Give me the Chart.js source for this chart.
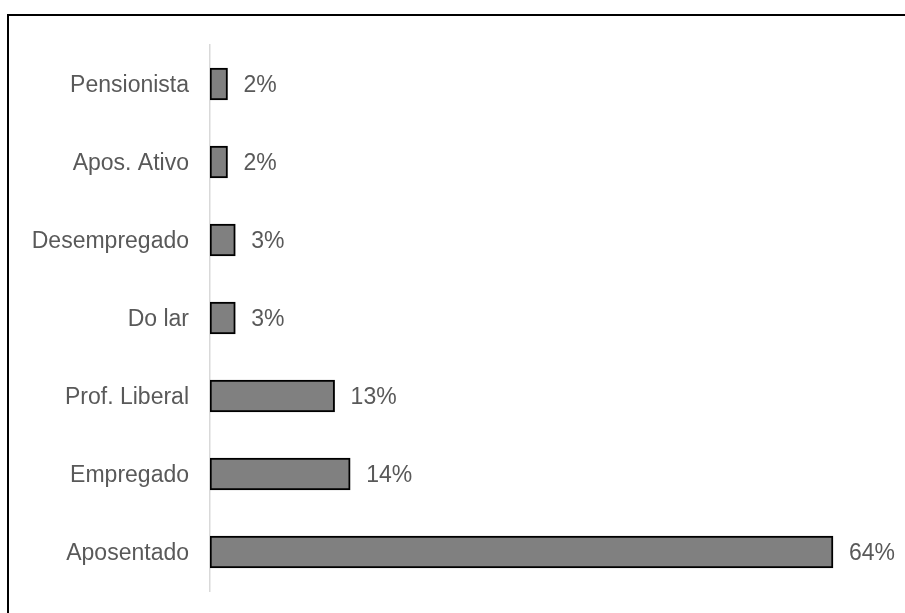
<!DOCTYPE html>
<html>
<head>
<meta charset="utf-8">
<script src="https://cdn.jsdelivr.net/npm/chart.js@4/dist/chart.umd.min.js"></script>
<style>
  html, body { margin: 0; padding: 0; background: #fff; overflow: hidden; width: 905px; height: 613px; }
  #frame { position: absolute; left: 7px; top: 14px; width: 1000px; height: 1000px; border: 2px solid #000; box-sizing: border-box; }
  #c { position: absolute; left: 0; top: 0; }
</style>
</head>
<body>
<div id="frame"></div>
<canvas id="c" width="905" height="613"></canvas>
<script>
const categories = ["Pensionista", "Apos. Ativo", "Desempregado", "Do lar", "Prof. Liberal", "Empregado", "Aposentado"];
const shares = [1.8, 1.8, 2.6, 2.6, 12.8, 14.4, 64];

const FONT = '"Liberation Sans", Arial, sans-serif';
const TEXT = '#595959';

const valueLabels = {
  id: 'valueLabels',
  afterDatasetsDraw(chart) {
    const ctx = chart.ctx;
    const meta = chart.getDatasetMeta(0);
    ctx.save();
    ctx.font = '23px ' + FONT;
    ctx.fillStyle = TEXT;
    ctx.textAlign = 'left';
    ctx.textBaseline = 'middle';
    meta.data.forEach((bar, i) => {
      ctx.fillText(Math.round(shares[i]) + '%', bar.x + 16, bar.y + 2);
    });
    ctx.restore();
  }
};

new Chart(document.getElementById('c'), {
  type: 'bar',
  data: {
    labels: categories,
    datasets: [{
      data: shares,
      backgroundColor: '#808080',
      borderColor: '#000000',
      borderWidth: 2,
      borderSkipped: false,
      barThickness: 32
    }]
  },
  options: {
    indexAxis: 'y',
    responsive: false,
    animation: false,
    layout: { padding: { top: 45, bottom: 22, left: 0, right: 13.6 } },
    plugins: { legend: { display: false }, tooltip: { enabled: false } },
    scales: {
      x: { display: false, min: 0, max: 70 },
      y: {
        afterFit(scale) { scale.width = 210; },
        grid: { display: true, drawOnChartArea: false, drawTicks: true, tickLength: 21, tickColor: 'rgba(0,0,0,0)' },
        border: { display: true, color: '#d9d9d9', width: 1.5 },
        ticks: { color: TEXT, font: { family: FONT, size: 23 }, padding: 0, labelOffset: 2 }
      }
    }
  },
  plugins: [valueLabels]
});
</script>
</body>
</html>
